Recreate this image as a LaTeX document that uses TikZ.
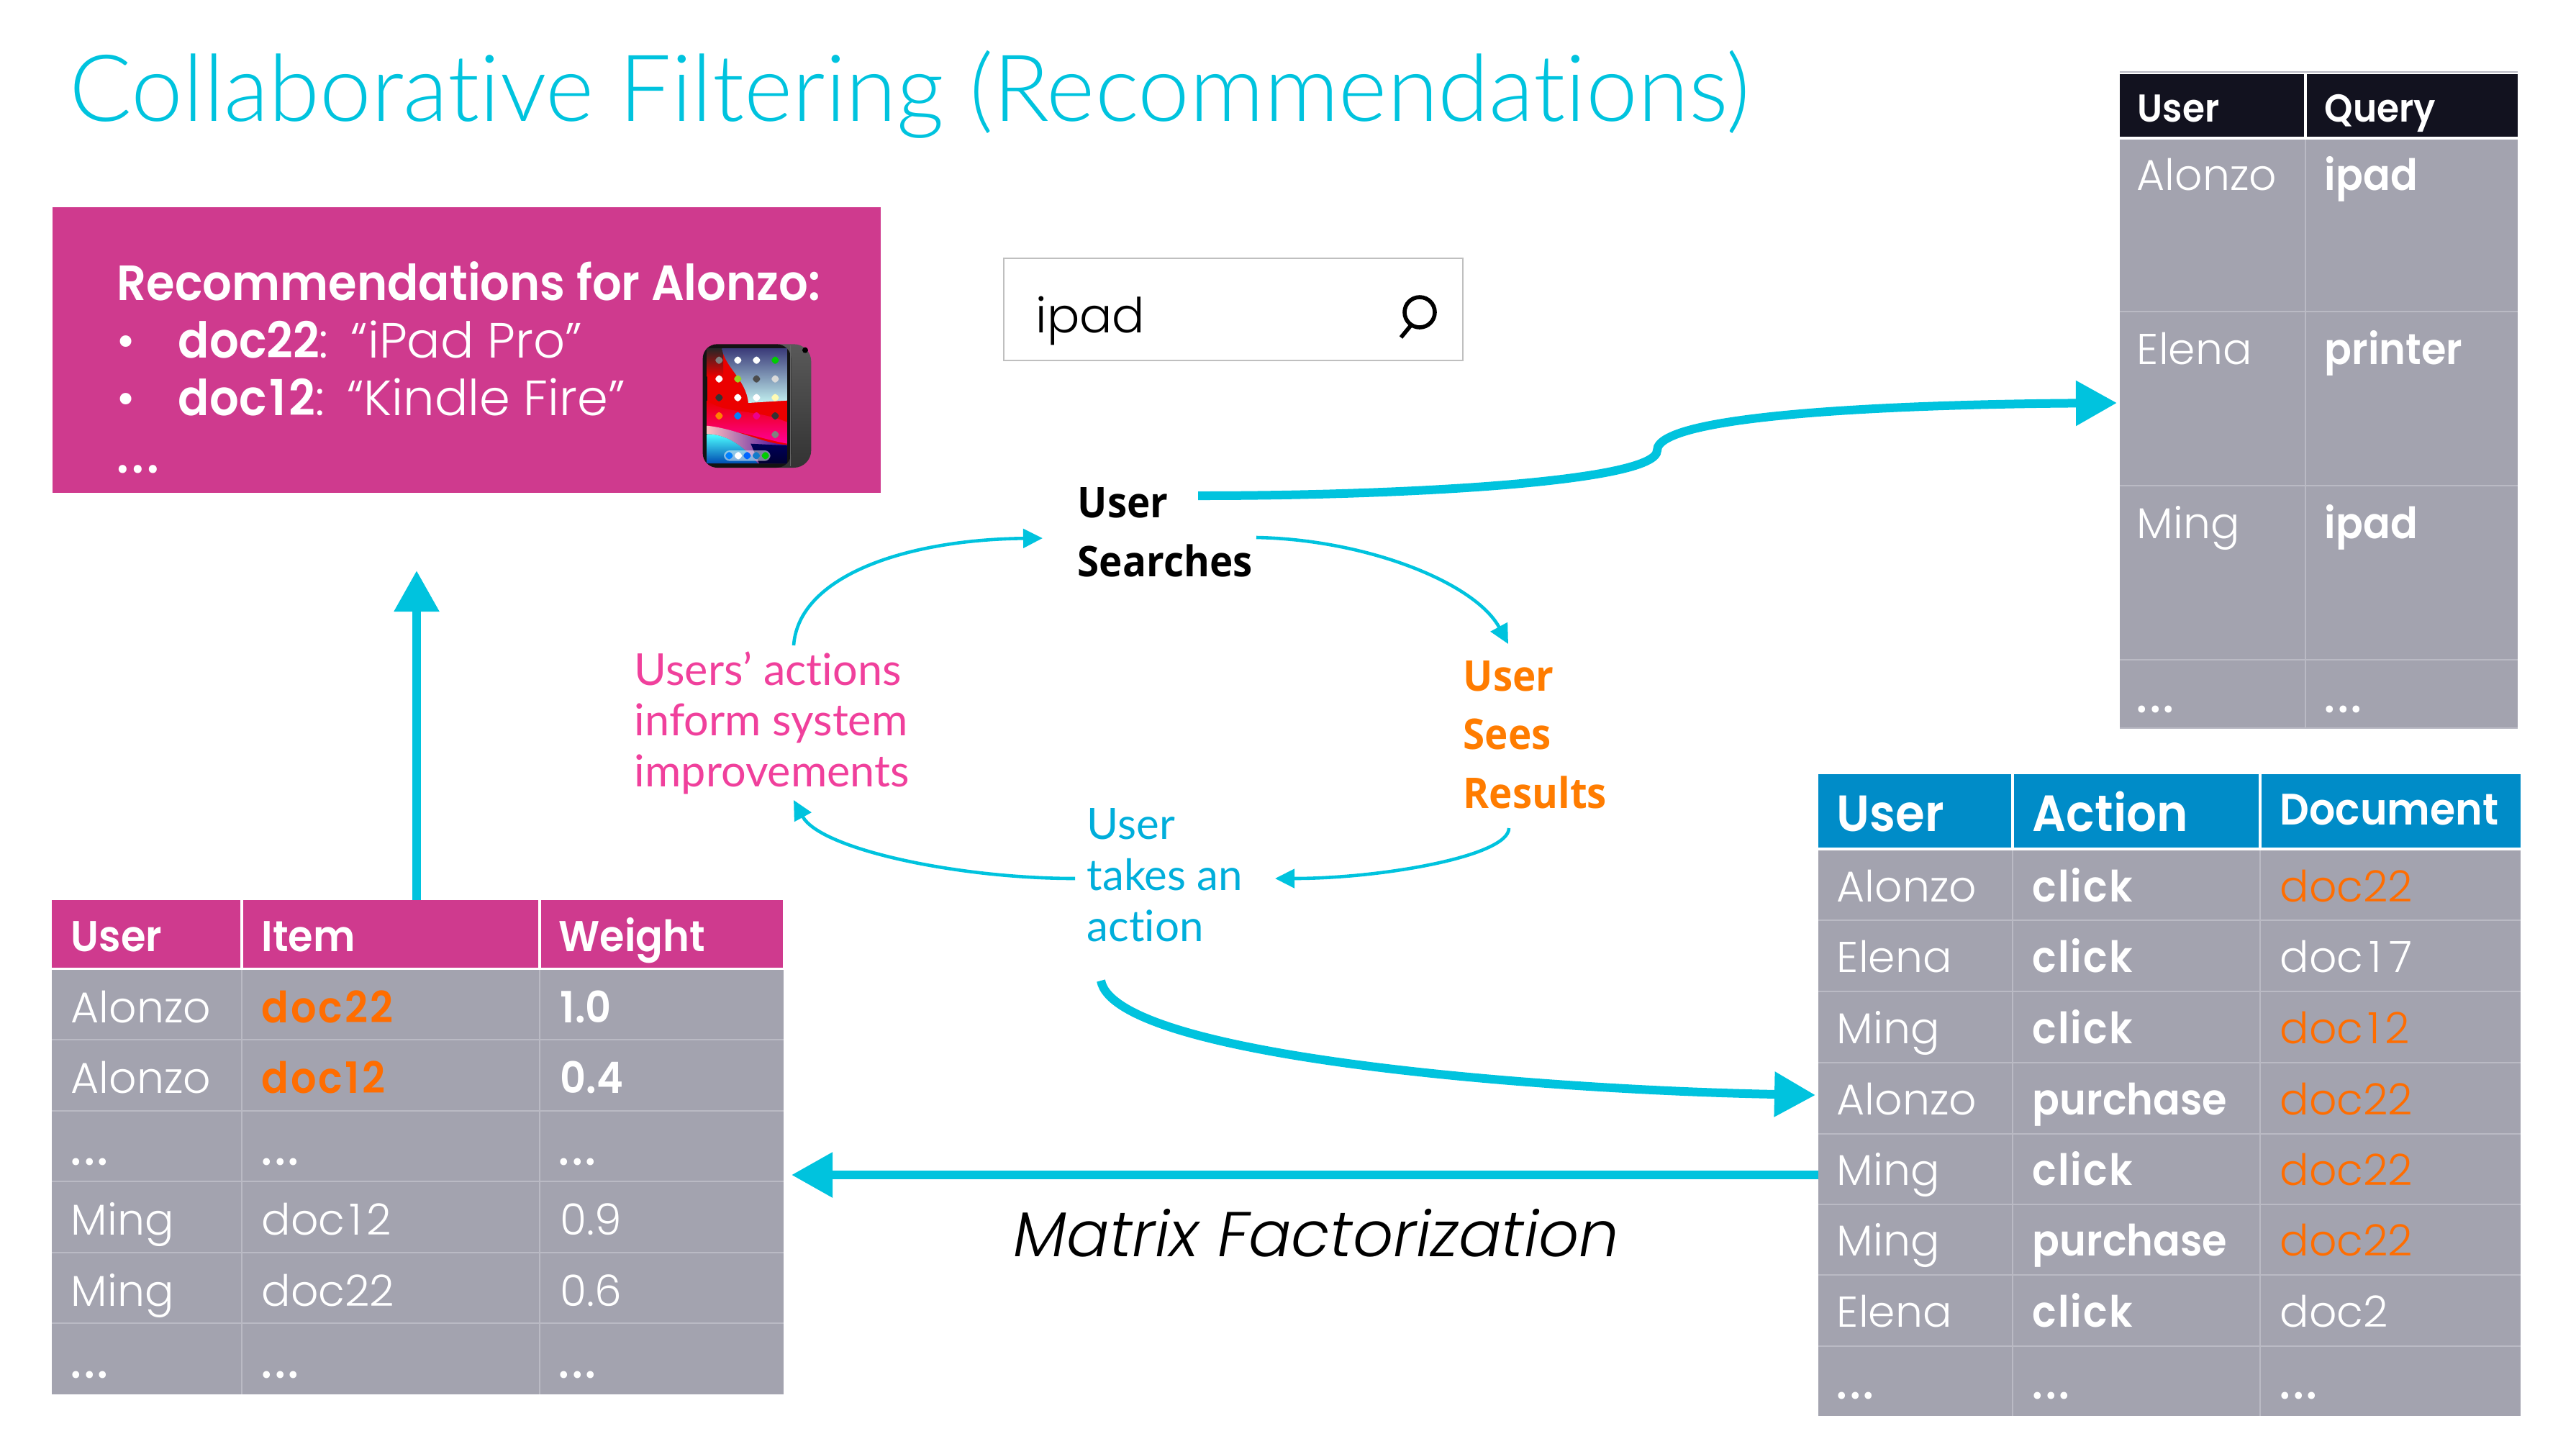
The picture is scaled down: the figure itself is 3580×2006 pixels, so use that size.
\documentclass[tikz,border=0pt]{standalone}
\usepackage{fontspec}
\usetikzlibrary{arrows.meta,shadings}
\setmainfont{Poppins}[UprightFont=* Light,BoldFont=* SemiBold,ItalicFont=* Light Italic,BoldFeatures={FakeStretch=0.93}]
\newfontfamily\titlefont{Lato Light}[Ligatures=NoCommon]
\newfontfamily\lblfont{Lato}[Ligatures=NoCommon]
\newfontfamily\lblbold{Open Sans}[UprightFont=* Bold,FakeStretch=0.93]
\definecolor{cy}{HTML}{00C3DE}
\definecolor{mg}{HTML}{CF3A8E}
\definecolor{tg}{HTML}{A3A3AF}
\definecolor{gl}{HTML}{BABAC4}
\definecolor{hb}{HTML}{008CC8}
\definecolor{nv}{HTML}{12121F}
\definecolor{og}{HTML}{FF6D00}
\definecolor{pk}{HTML}{F0409C}
\definecolor{ab}{HTML}{00AEDB}
\newcommand\bxnode[6]{\node[#6,minimum width={(#4-#2)*0.25pt},minimum height={(#5-#3)*0.25pt}] (#1) at ({(#2+#4)/2},{(#3+#5)/2}) {};}
\newcommand\tlines[2]{\vtop{\baselineskip=#1\lineskip=0pt\lineskiplimit=-100pt #2}}
\newcommand\cellt[5][white]{\node[celltext,text=#1] (#2) at (#3,#4) {#5};}
\newcommand\cellb[5][white]{\node[celltext,text=#1] (#2) at (#3,#4) {\bfseries #5};}
\newcommand\dts{{\bfseries.\kern1pt.\kern1pt.}}
\newcommand\dcA{doc\kern1.5pt 1\kern1.5pt 2}
\newcommand\dcB{doc\kern2pt 1\kern2.5pt 7}
\newcommand\bdA{d\kern.7pt o\kern.7pt c\kern.7pt 2\kern.7pt 2}
\newcommand\bdB{d\kern.7pt o\kern.7pt c\kern.9pt 1\kern.9pt 2}
\newcommand\clk{c\kern.5pt l\kern.5pt i\kern.5pt c\kern.5pt k}
\tikzset{
  sq/.style={inner sep=0pt,outer sep=0pt,draw=none},
  celltext/.style={anchor=base west,inner sep=0pt,xshift=-0.5pt,yshift=-0.5pt,font=\fontsize{15}{18}\selectfont},
  label text/.style={anchor=base west,inner sep=0pt},
  gridline/.style={draw=gl,line width=0.35pt},
  hgap/.style={draw=white,line width=0.9pt},
  thinflow/.style={draw=cy,line width=1.15pt,-{Triangle[length=6.75pt,width=6.5pt]}},
  bigflow/.style={draw=cy,line width=3pt,-{Triangle[length=14.25pt,width=15pt]}},
}
\begin{document}
\begin{tikzpicture}[x=0.25pt,y=-0.25pt]
\useasboundingbox (0,0) rectangle (3580,2006);
% title
\node[label text,text=cy,font=\titlefont\fontsize{32.2}{36}\selectfont] (title) at (96,168) {Collaborative Filtering (Recommendations)};
% recommendation box
\bxnode{recs}{73}{288}{1224}{685}{sq,fill=mg}
\node[label text,text=white,font=\fontsize{17.2}{20}\selectfont] (recstext) at (162,417) {\tlines{20pt}{%
  \hbox{\bfseries Recommendations for Alonzo:}
  \hbox{\hbox to 21.25pt{•\hss}{\bfseries doc22}:\kern1.5pt{} “iPad Pro”}
  \hbox{\hbox to 21.25pt{•\hss}{\bfseries doc\kern1pt 1\kern1pt 2}:\kern1.5pt{} “Kindle Fire”}
  \hbox{\dts}}};
% tablet
\begin{scope}[shift={(960,460)},x=0.08333pt,y=-0.08333pt]
  \shade[top color=gray!70!black,bottom color=black!80,rounded corners=6pt] (300,55) rectangle (502,570);
  \fill[black!85!gray,rounded corners=5pt] (50,55) rectangle (418,570);
  \fill[black!60] (413,60) rectangle (418,565);
  \begin{scope}
    \clip (68,72) rectangle (402,552);
    \fill[red!92!black] (68,72) rectangle (402,552);
    \shade[top color=black!85,bottom color=red!92!black] (68,72) rectangle (135,190);
    \shade[top color=blue!35!gray!70!black,bottom color=gray!40!cyan!30] (130,72) .. controls (140,150) and (230,200) .. (240,300) -- (402,290) -- (402,72) -- cycle;
    \shade[top color=red!92!black,bottom color=magenta!60!red] (68,290) .. controls (150,350) and (250,320) .. (402,380) -- (402,470) .. controls (300,450) and (220,420) .. (68,400) -- cycle;
    \shade[left color=pink,right color=magenta!40!blue!60!black] (68,395) .. controls (200,410) and (300,470) .. (402,475) -- (402,552) -- (280,552) .. controls (220,480) and (150,430) .. (68,430) -- cycle;
    \shade[top color=blue!35!black,bottom color=blue!20!black] (250,470) -- (402,478) -- (402,552) -- (285,552) -- cycle;
    \shade[top color=cyan!70!white,bottom color=teal!60!blue] (68,430) .. controls (150,430) and (220,480) .. (280,552) -- (68,552) -- cycle;
  \end{scope}
  \foreach \ix/\iy/\ic in {118/122/gray,196/122/white,274/122/white,352/122/green!80!black,118/200/white,196/200/yellow!60!green,274/200/black!70,352/200/gray!30,118/278/black!80,196/278/white,274/278/white,352/278/yellow!30,118/354/orange,196/354/blue!50!cyan,274/354/magenta,352/354/black!80,352/432/gray}
    \fill[\ic,rounded corners=1.5pt] (\ix-15,\iy-15) rectangle (\ix+15,\iy+15);
  \fill[white,opacity=.5,rounded corners=2pt] (138,498) rectangle (332,542);
  \foreach \ix/\ic in {160/blue!50!cyan,198/white,235/blue!60!cyan,273/cyan!60!blue,311/green!80!black}
    \fill[\ic,rounded corners=1.5pt] (\ix-15,505) rectangle (\ix+15,535);
  \fill[black] (477,80) circle (12);
\end{scope}
% search box
\bxnode{searchbox}{1395}{359}{2033}{501}{sq,draw=black!25,line width=0.35pt,fill=white}
\node[label text,font=\fontsize{16.8}{20}\selectfont] (ipadq) at (1439,462) {ipad};
\draw[black,line width=1.4pt] (1973,434) circle (21);
\draw[black,line width=1.4pt] (1961,452) -- (1947,469);
% query table
\bxnode{tblQ}{2946}{103}{3499}{1012}{sq,fill=tg}
\bxnode{hdQ}{2946}{103}{3499}{192}{sq,fill=nv}
\foreach \yy in {433,675,917} \draw[gridline] (2946,\yy) -- (3499,\yy);
\draw[gridline] (3204,192) -- (3204,1012);
\draw[hgap] (2946,192) -- (3499,192);
\draw[hgap] (3204,103) -- (3204,192);
\draw[draw=gl,line width=0.6pt] (2946,1012) -- (3499,1012);
\draw[draw=gl,line width=0.35pt] (2946,100) -- (3499,100);
\node[celltext,text=white,font=\fontsize{13.5}{16}\selectfont\bfseries] (qh1) at (2972,167) {User};
\node[celltext,text=white,font=\fontsize{13.5}{16}\selectfont\bfseries] (qh2) at (3232,167) {Query};
\cellt{q11}{2971}{262}{Alonzo}\cellb{q12}{3232}{262}{ipad}
\cellt{q21}{2971}{504}{Elena}\cellb{q22}{3232}{504}{printer}
\cellt{q31}{2971}{746}{Ming}\cellb{q32}{3232}{746}{ipad}
\cellt{q41}{2971}{988}{\dts}\cellt{q42}{3232}{988}{\dts}
% action table
\bxnode{tblA}{2527}{1076}{3503}{1968}{sq,fill=tg}
\bxnode{hdA}{2527}{1076}{3503}{1180}{sq,fill=hb}
\foreach \yy in {1279,1378,1477,1576,1674,1772,1871} \draw[gridline] (2527,\yy) -- (3503,\yy);
\foreach \xx in {2797,3141} {\draw[gridline] (\xx,1180) -- (\xx,1968); \draw[hgap] (\xx,1076) -- (\xx,1180);}
\draw[hgap] (2527,1180) -- (3503,1180);
\node[celltext,text=white,font=\fontsize{17.7}{20}\selectfont\bfseries] (ah1) at (2554,1153) {User};
\node[celltext,text=white,font=\fontsize{17.7}{20}\selectfont\bfseries] (ah2) at (2826,1153) {Action};
\node[celltext,text=white,font=\fontsize{15.3}{18}\selectfont\bfseries] (ah3) at (3170,1144) {Document};
\cellt{a11}{2554}{1251}{Alonzo}\cellb{a12}{2826}{1251}{\clk}\cellt[og]{a13}{3170}{1251}{doc22}
\cellt{a21}{2554}{1349}{Elena}\cellb{a22}{2826}{1349}{\clk}\cellt{a23}{3170}{1349}{\dcB}
\cellt{a31}{2554}{1448}{Ming}\cellb{a32}{2826}{1448}{\clk}\cellt[og]{a33}{3170}{1448}{\dcA}
\cellt{a41}{2554}{1547}{Alonzo}\cellb{a42}{2826}{1547}{purchase}\cellt[og]{a43}{3170}{1547}{doc22}
\cellt{a51}{2554}{1645}{Ming}\cellb{a52}{2826}{1645}{\clk}\cellt[og]{a53}{3170}{1645}{doc22}
\cellt{a61}{2554}{1743}{Ming}\cellb{a62}{2826}{1743}{purchase}\cellt[og]{a63}{3170}{1743}{doc22}
\cellt{a71}{2554}{1842}{Elena}\cellb{a72}{2826}{1842}{\clk}\cellt{a73}{3170}{1842}{doc2}
\cellt{a81}{2554}{1942}{\dts}\cellt{a82}{2826}{1942}{\dts}\cellt{a83}{3170}{1942}{\dts}
% left table
\bxnode{tblL}{72}{1348}{1089}{1938}{sq,fill=tg}
\bxnode{hdL}{72}{1251}{1088}{1345}{sq,fill=mg}
\foreach \yy in {1445,1544,1642,1741,1839} \draw[gridline] (72,\yy) -- (1089,\yy);
\foreach \xx in {336,750} {\draw[gridline] (\xx,1348) -- (\xx,1938); \draw[hgap] (\xx,1251) -- (\xx,1345);}
\cellb{lh1}{100}{1320}{User}\cellb{lh2}{365}{1320}{Item}\cellb{lh3}{778}{1320}{Weight}
\cellt{l11}{100}{1419}{Alonzo}\cellb[og]{l12}{365}{1419}{\bdA}\cellb{l13}{780}{1419}{1.0}
\cellt{l21}{100}{1517}{Alonzo}\cellb[og]{l22}{365}{1517}{\bdB}\cellb{l23}{780}{1517}{0.4}
\cellt{l31}{100}{1617}{\dts}\cellt{l32}{365}{1617}{\dts}\cellt{l33}{778}{1617}{\dts}
\cellt{l41}{100}{1714}{Ming}\cellt{l42}{365}{1714}{\dcA}\cellt{l43}{780}{1714}{0.9}
\cellt{l51}{100}{1813}{Ming}\cellt{l52}{365}{1813}{doc22}\cellt{l53}{780}{1813}{0.6}
\cellt{l61}{100}{1913}{\dts}\cellt{l62}{365}{1913}{\dts}\cellt{l63}{778}{1913}{\dts}
% cycle labels
\node[label text,text=black,font=\lblbold\fontsize{14.7}{18}\selectfont] (searches) at (1497,719) {\tlines{20.7pt}{\hbox{User}\hbox{Searches}}};
\node[label text,text=og!90!yellow,font=\lblbold\fontsize{14.7}{18}\selectfont] (sees) at (2033,960) {\tlines{20.4pt}{\hbox{User}\hbox{Sees}\hbox{Results}}};
\node[label text,text=ab,font=\lblfont\fontsize{15}{18}\selectfont] (takes) at (1510,1166) {\tlines{17.75pt}{\hbox{User}\hbox{takes an}\hbox{action}}};
\node[label text,text=pk,font=\lblfont\fontsize{15.3}{18}\selectfont] (informs) at (881,952) {\tlines{17.65pt}{\hbox{Users’ actions}\hbox{inform system}\hbox{improvements}}};
\node[label text,font=\itshape\fontsize{22}{27}\selectfont] (mf) at (1408,1746) {Matrix Factorization};
% connector helper points
\coordinate (a1s) at (1103,897); \coordinate (a1e) at (1449,748);
\coordinate (a2s) at (1746,747); \coordinate (a2e) at (2096,895);
\coordinate (a3s) at (2097,1151); \coordinate (a3e) at (1772,1221);
\coordinate (a4s) at (1494,1221); \coordinate (a4e) at (1103,1112);
\coordinate (bigs) at (1530,1363); \coordinate (bige) at (2523,1522);
\coordinate (qs) at (1665,689); \coordinate (qm) at (2303,626); \coordinate (qe) at (2942,560);
\coordinate (upx) at (579,0); \coordinate (mfy) at (0,1633);
% connectors
\draw[thinflow] (a1s) .. controls (1110,800) and (1260,750) .. (a1e);
\draw[thinflow] (a2s) .. controls (1900,750) and (2050,810) .. (a2e);
\draw[thinflow] (a3s) .. controls (2097,1190) and (1920,1221) .. (a3e);
\draw[thinflow] (a4s) .. controls (1330,1221) and (1140,1180) .. (a4e);
\draw[bigflow] (bigs) .. controls (1550,1470) and (2150,1515) .. (bige);
\draw[bigflow] (qs) .. controls (1950,689) and (2303,670) .. (qm) .. controls (2303,575) and (2650,562) .. (qe);
\draw[bigflow,shorten >=2.75pt] (tblA.west |- mfy) -- (tblL.east |- mfy);
\draw[bigflow,shorten >=27pt] (hdL.north -| upx) -- (recs.south -| upx);
\end{tikzpicture}
\end{document}
